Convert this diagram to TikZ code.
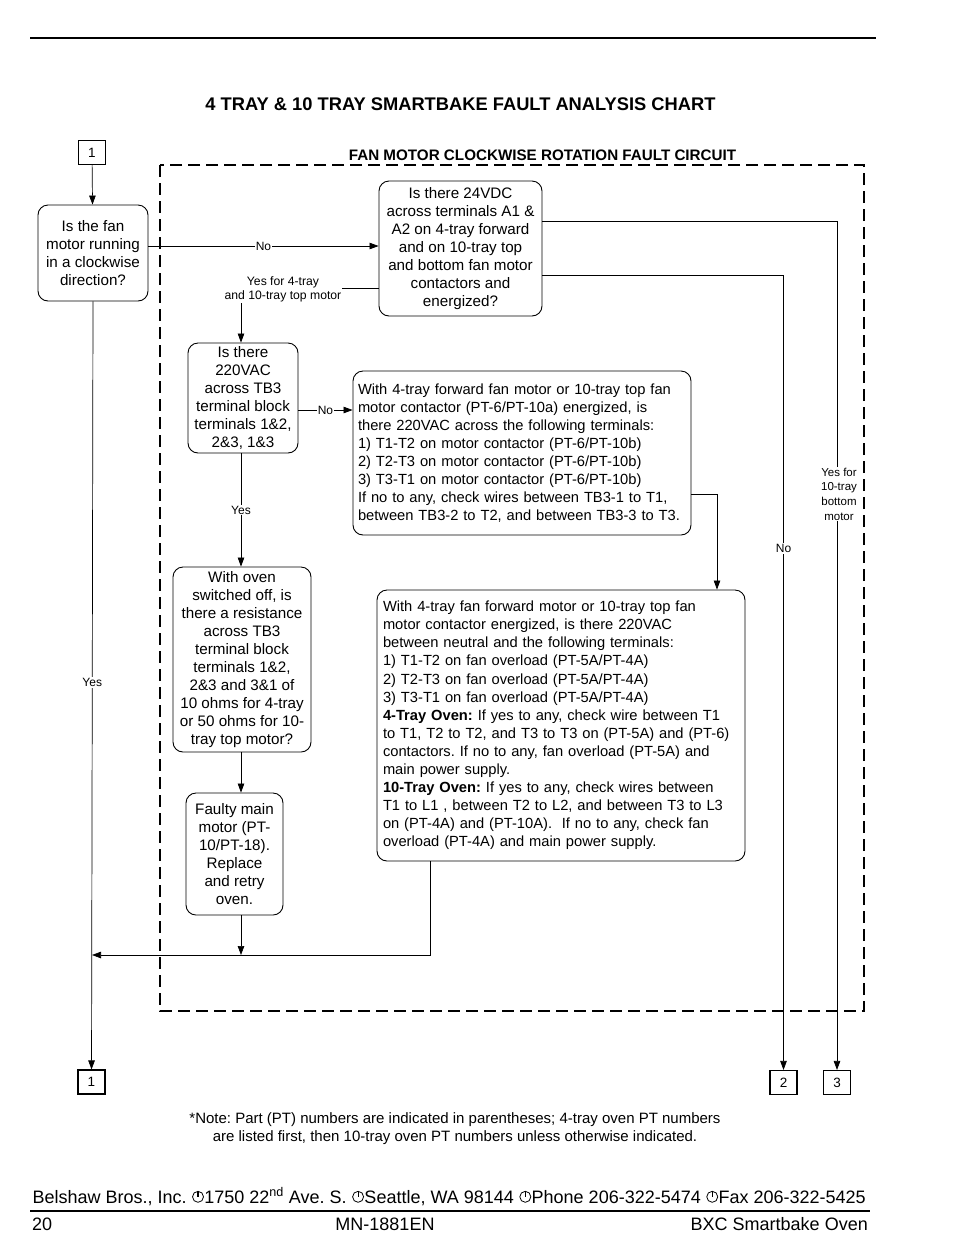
\documentclass[tikz,border=0pt]{standalone}
\usepackage{fontspec}
\setmainfont{Liberation Sans}
\usetikzlibrary{arrows.meta}
\newcommand\circsym{\hspace{0.5pt}\begin{pgfpicture}\pgfsetlinewidth{0.8pt}\pgfpathcircle{\pgfpoint{5.5pt}{6.2pt}}{5.5pt}\pgfusepath{stroke}\pgfsetlinewidth{1.1pt}\pgfpathmoveto{\pgfpoint{5.5pt}{11.7pt}}\pgfpathlineto{\pgfpoint{5.5pt}{6.2pt}}\pgfusepath{stroke}\pgfpathrectangle{\pgfpoint{0pt}{0pt}}{\pgfpoint{11pt}{11.7pt}}\pgfusepath{use as bounding box}\end{pgfpicture}\hspace{0.5pt}}
\frenchspacing
\begin{document}
\begin{tikzpicture}[x=1pt,y=-1pt,
  box/.style={draw, line width=0.9pt, rounded corners=10pt, inner sep=3pt, font=\fontsize{15.2}{18}\selectfont},
  bigbox/.style={box, font=\fontsize{14.7}{18.1}\selectfont},
  conn/.style={line width=0.7pt},
  arr/.style={conn, -{Triangle[length=9pt,width=6.5pt]}},
  lbl/.style={fill=white, inner sep=1pt, font=\fontsize{12}{14}\selectfont},
  slbl/.style={fill=white, inner sep=1pt, align=center, font=\fontsize{12.2}{14}\selectfont},
  rlbl/.style={fill=white, inner sep=1pt, align=center, font=\fontsize{11.5}{14.6}\selectfont},
  numbox/.style={draw, line width=1.1pt, minimum width=27pt, minimum height=24pt, inner sep=0pt, font=\fontsize{13.5}{15}\selectfont},
  frame/.style={line width=2.6pt, dash pattern=on 12pt off 6pt}
]
\useasboundingbox[fill=white] (0,0) rectangle (954,1259);

% top rule and title
\draw[line width=1.2pt] (30,38) -- (876,38);
\node[anchor=base, font=\bfseries\fontsize{18.3}{21}\selectfont] (title) at (460.5,110) {4 TRAY \& 10 TRAY SMARTBAKE FAULT ANALYSIS CHART};

% dashed frame
\draw[frame] (160,165) rectangle (864,1011);
\node[anchor=base, font=\bfseries\fontsize{15.2}{17}\selectfont] (ftitle) at (542.5,160) {FAN MOTOR CLOCKWISE ROTATION FAULT CIRCUIT};

% connector boxes
\node[numbox] (b1t) at (92,152.5) {1};
\node[numbox] (b1b) at (91.5,1082) {1};
\node[numbox] (b2) at (783.5,1082.5) {2};
\node[numbox] (b3) at (837,1082.5) {3};

% decision boxes
\node[box, minimum width=110pt, minimum height=96pt, align=center] (start) at (93,253)
  {Is the fan\\motor running\\in a clockwise\\direction?};
\node[box, minimum width=163pt, minimum height=135pt, align=center] (q24) at (460.5,248.5)
  {Is there 24VDC\\across terminals A1 \&\\A2 on 4-tray forward\\and on 10-tray top\\and bottom fan motor\\contactors and\\energized?};
\node[box, minimum width=110pt, minimum height=110pt, align=center] (q220) at (243,398)
  {Is there\\220VAC\\across TB3\\terminal block\\terminals 1\&2,\\2\&3, 1\&3};
\node[bigbox, minimum width=338pt, minimum height=164pt, inner xsep=5pt, text width=328pt, align=left] (big1) at (522,453)
  {With 4-tray forward fan motor or 10-tray top fan\\motor contactor (PT-6/PT-10a) energized, is\\there 220VAC across the following terminals:\\1) T1-T2 on motor contactor (PT-6/PT-10b)\\2) T2-T3 on motor contactor (PT-6/PT-10b)\\3) T3-T1 on motor contactor (PT-6/PT-10b)\\If no to any, check wires between TB3-1 to T1,\\between TB3-2 to T2, and between TB3-3 to T3.};
\node[box, minimum width=138pt, minimum height=185pt, align=center] (qres) at (242,659.5)
  {With oven\\switched off, is\\there a resistance\\across TB3\\terminal block\\terminals 1\&2,\\2\&3 and 3\&1 of\\10 ohms for 4-tray\\or 50 ohms for 10-\\tray top motor?};
\node[box, minimum width=97pt, minimum height=122pt, align=center] (faulty) at (234.5,854)
  {Faulty main\\motor (PT-\\10/PT-18).\\Replace\\and retry\\oven.};
\node[bigbox, minimum width=368pt, minimum height=271pt, inner xsep=6pt, text width=356pt, align=left] (big2) at (561,725.5)
  {With 4-tray fan forward motor or 10-tray top fan\\motor contactor energized, is there 220VAC\\between neutral and the following terminals:\\1) T1-T2 on fan overload (PT-5A/PT-4A)\\2) T2-T3 on fan overload (PT-5A/PT-4A)\\3) T3-T1 on fan overload (PT-5A/PT-4A)\\\textbf{4-Tray Oven:} If yes to any, check wire between T1\\to T1, T2 to T2, and T3 to T3 on (PT-5A) and (PT-6)\\contactors. If no to any, fan overload (PT-5A) and\\main power supply.\\\textbf{10-Tray Oven:} If yes to any, check wires between\\T1 to L1 , between T2 to L2, and between T3 to L3\\on (PT-4A) and (PT-10A).\ \ If no to any, check fan\\overload (PT-4A) and main power supply.};

% coordinates
\coordinate (m) at (92,955);
\coordinate (m2) at (430,955);
\coordinate (k) at (717,494);

% connectors
\draw[arr] (b1t) -- (start);
\draw[arr] (start.south) -- node[lbl, pos=0.496]{Yes} (b1b);
\draw[arr] (start.east |- 0,246) -- node[lbl, pos=0.5]{No} (q24.west |- 0,246);
\draw[arr] (q24.west |- 0,288) -| (q220.north -| 241,0);
\node[slbl] (yes4) at (283,289) {Yes for 4-tray\\and 10-tray top motor};
\draw[arr] (q220.east |- 0,410) -- node[lbl]{No} (big1.west |- 0,410);
\draw[arr] (q220.south -| 241,0) -- node[lbl, pos=0.5]{Yes} (qres.north -| 241,0);
\draw[arr] (qres.south -| 241,0) -- (faulty.north -| 241,0);
\draw[arr] (faulty.south -| 241,0) -- (241,955);
\draw[arr] (big1.east |- k) -| (big2.north -| k);
\draw[arr] (big2.south -| m2) |- (m);
\draw[arr] (q24.east |- 0,221) -| (b3.north);
\node[rlbl] (yes10) at (839,494) {Yes for\\10-tray\\bottom\\motor};
\draw[arr] (q24.east |- 0,275) -| node[lbl, pos=0.672]{No} (b2.north);

% note
\node[anchor=base, font=\fontsize{15}{18}\selectfont] (note) at (455,1123)
  {*Note: Part (PT) numbers are indicated in parentheses; 4-tray oven PT numbers};
\node[anchor=base, font=\fontsize{15}{18}\selectfont] (note2) at (455,1141)
  {are listed first, then 10-tray oven PT numbers unless otherwise indicated.};

% footer
\node[anchor=base west, inner sep=0pt, font=\fontsize{18}{20}\selectfont] (addr) at (32,1203)
  {Belshaw Bros., Inc. \circsym1750 22\textsuperscript{nd} Ave. S. \circsym Seattle, WA 98144 \circsym Phone 206-322-5474 \circsym Fax 206-322-5425};
\draw[line width=1.2pt] (30,1211) -- (870,1211);
\node[anchor=base west, inner sep=0pt, font=\fontsize{18}{20}\selectfont] (pg) at (32,1230) {20};
\node[anchor=base, inner sep=0pt, font=\fontsize{18}{20}\selectfont] (doc) at (385,1230) {MN-1881EN};
\node[anchor=base east, inner sep=0pt, font=\fontsize{18}{20}\selectfont] (prod) at (868,1230) {BXC Smartbake Oven};
\end{tikzpicture}
\end{document}
